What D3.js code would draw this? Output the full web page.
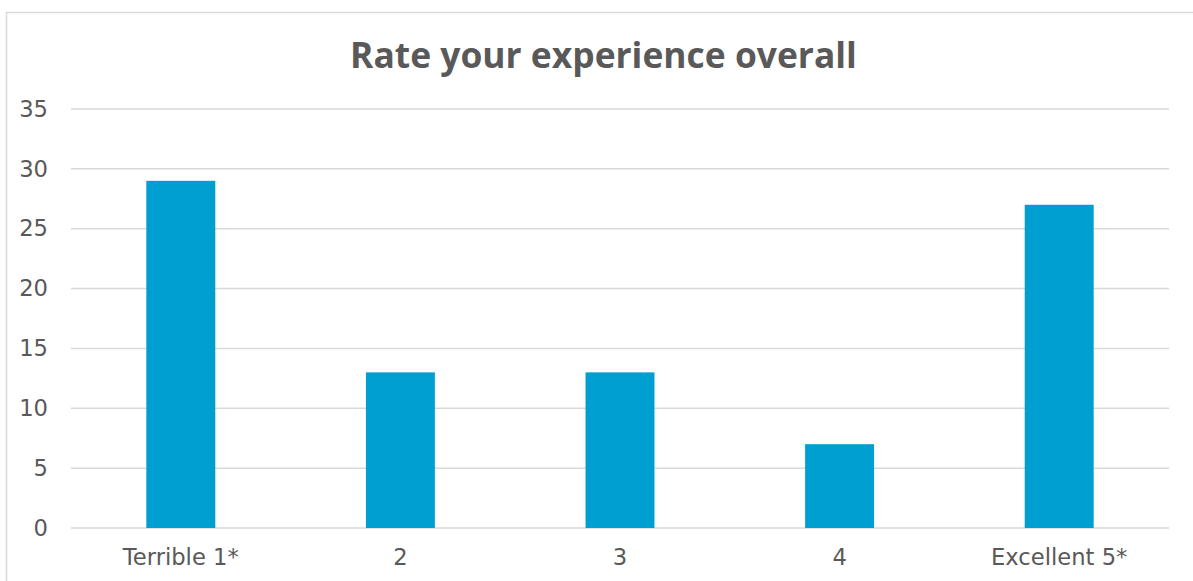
<!DOCTYPE html>
<html>
<head>
<meta charset="utf-8">
<script src="https://cdn.jsdelivr.net/npm/d3@7"></script>
<style>
  body { margin: 0; background: #fff; }
  svg { display: block; }
</style>
</head>
<body>
<script>
const categories = ["Terrible 1*", "2", "3", "4", "Excellent 5*"]
const responses = [29, 13, 13, 7, 27]
const yTicks = [0, 5, 10, 15, 20, 25, 30, 35]
const chartTitle = "Rate your experience overall"

const width = 1193, height = 581
const plot = {left: 71, right: 1169, top: 109, bottom: 528}
const fontFamily = "'DejaVu Sans', Verdana, sans-serif"
const titleFont = "'Open Sans', 'DejaVu Sans', sans-serif"
const textColor = "#595959"

const svg = d3.select('body').append('svg')
    .attr('width', width)
    .attr('height', height)

// chart frame
svg.append('rect')
    .attr('x', 6.5).attr('y', 12.5)
    .attr('width', 1200).attr('height', 600)
    .attr('fill', 'none')
    .attr('stroke', '#d9d9d9')
    .attr('stroke-width', 1.5)

const x = d3.scaleBand()
    .domain(categories)
    .range([plot.left, plot.right])
    .paddingInner(0.686)
    .paddingOuter(0.343)

const y = d3.scaleLinear()
    .domain([0, 35])
    .range([plot.bottom, plot.top])

// fit a font size so the text spans a measured width
function fitSize(sample, family, weight, target){
    let t = svg.append('text')
        .style('font-family', family)
        .style('font-weight', weight)
        .style('font-size', '20px')
        .text(sample)
    let w = t.node().getComputedTextLength()
    t.remove()
    return 20 * target / w
}

const tickSize = fitSize("Terrible 1*", fontFamily, 'normal', 116)
const titleSize = fitSize(chartTitle, titleFont, 'bold', 507)

// gridlines
svg.append('g')
    .selectAll('line')
    .data(yTicks)
    .join('line')
    .attr('x1', plot.left).attr('x2', plot.right)
    .attr('y1', d => y(d)).attr('y2', d => y(d))
    .attr('stroke', '#d9d9d9')
    .attr('stroke-width', 1.5)

// y axis labels
const yAxis = svg.append('g')
    .attr('transform', 'translate(' + (plot.left - 23) + ',0)')
    .call(d3.axisLeft(y).tickValues(yTicks).tickSize(0).tickPadding(0))
yAxis.select('.domain').remove()
yAxis.selectAll('text')
    .style('font-family', fontFamily)
    .style('font-size', tickSize + 'px')
    .attr('fill', textColor)

// bars
svg.append('g')
    .selectAll('rect')
    .data(responses)
    .join('rect')
    .attr('x', (d, i) => x(categories[i]))
    .attr('y', d => y(d))
    .attr('width', x.bandwidth())
    .attr('height', d => y(0) - y(d))
    .attr('fill', '#009fd1')

// x axis labels
const xAxis = svg.append('g')
    .attr('transform', 'translate(0,' + plot.bottom + ')')
    .call(d3.axisBottom(x).tickSize(0).tickPadding(21))
xAxis.select('.domain').remove()
xAxis.selectAll('text')
    .style('font-family', fontFamily)
    .style('font-size', tickSize + 'px')
    .attr('fill', textColor)

// title
svg.append('text')
    .attr('x', 603.5)
    .attr('y', 68)
    .attr('text-anchor', 'middle')
    .style('font-family', titleFont)
    .style('font-weight', 'bold')
    .style('font-size', titleSize + 'px')
    .attr('fill', textColor)
    .text(chartTitle)
</script>
</body>
</html>
